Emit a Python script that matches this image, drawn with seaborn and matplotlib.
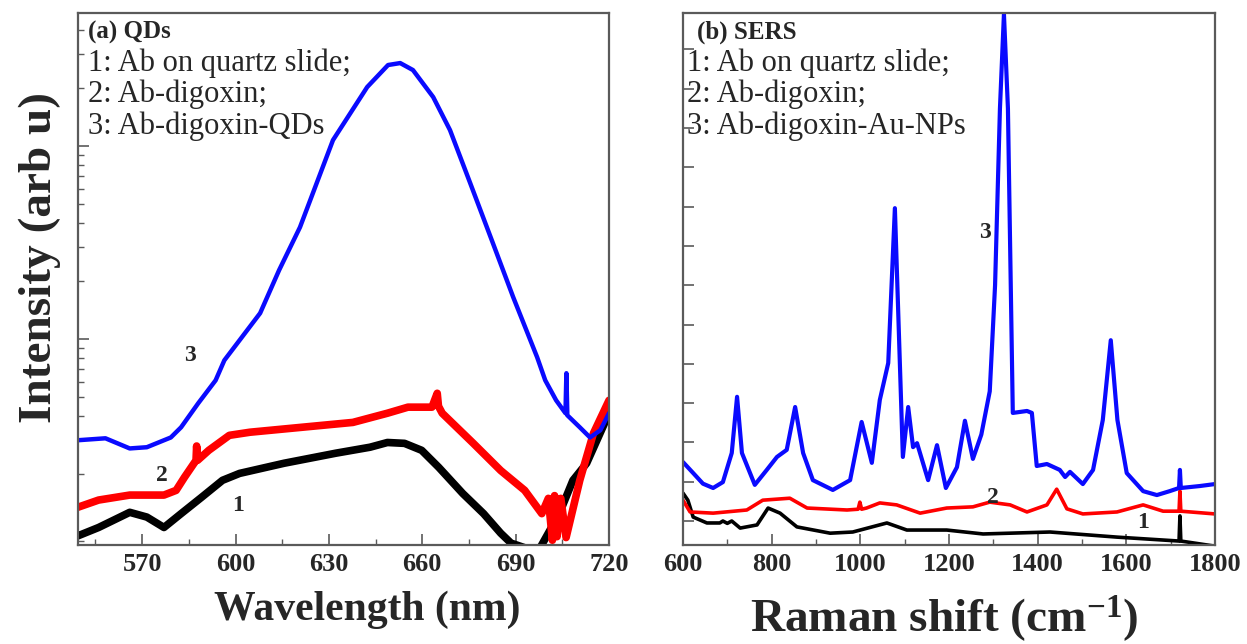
import matplotlib
matplotlib.use("Agg")
import matplotlib.pyplot as plt
from matplotlib.ticker import MultipleLocator, LogLocator, NullFormatter
import pandas as pd
import seaborn as sns

# ---------------- (a) photoluminescence of the QD assay ----------------
pl_nm_blue = [549.4, 558.2, 566.0, 571.5, 579.2, 582.5, 588.0, 593.6, 596.4, 607.9,
              614.0, 620.7, 631.3, 642.3, 649.0, 652.9, 657.0, 663.5, 668.9, 675.4,
              682.7, 689.2, 696.9, 699.5, 703.0, 706.0, 706.3, 706.6, 710.6, 713.9,
              717.2, 720.0]
pl_blue = [300, 307, 272, 276, 310, 350, 466, 613, 778, 1365,
           2280, 3802, 10740, 20230, 26300, 26920, 24770, 17950, 12110, 6430,
           3140, 1653, 807, 613, 483, 414, 667, 404, 350, 310,
           338, 414]

pl_nm_red = [549.4, 556.0, 566.0, 577.0, 580.9, 583.6, 587.3, 587.5, 587.8, 591.4,
             598.0, 604.6, 621.2, 637.7, 648.8, 655.4, 663.1, 664.8, 665.2, 666.4,
             676.4, 685.2, 692.9, 698.4, 700.5, 701.8, 702.5, 703.3, 704.5, 706.2,
             710.6, 715.0, 720.0]
pl_red = [135, 147, 156, 156, 165, 193, 236, 280, 236, 266,
          318, 330, 350, 371, 414, 445, 445, 525, 450, 414,
          289, 209, 165, 125, 150, 91, 155, 95, 150, 94,
          186, 326, 483]

pl_nm_black = [549.4, 556.0, 566.0, 571.5, 577.0, 582.5, 589.1, 595.8, 601.3, 615.6,
               632.2, 643.2, 648.8, 654.3, 659.8, 665.3, 673.0, 679.7, 685.2, 688.5,
               695.1, 698.0, 704.0, 708.4, 712.8, 720.0]
pl_black = [96, 106, 127, 120, 106, 125, 152, 186, 202, 228,
            257, 276, 292, 289, 266, 217, 159, 125, 99, 88,
            81, 84, 125, 186, 228, 414]

# ---------------- (b) SERS spectra ----------------
raman_blue_x = [600, 623, 645, 668, 690, 710, 722, 733, 762, 789,
                812, 834, 853, 871, 893, 938, 977, 1003, 1026, 1044,
                1063, 1078, 1096, 1108, 1119, 1128, 1153, 1173, 1193, 1218,
                1236, 1254, 1273, 1292, 1304, 1315, 1324, 1333, 1344, 1376,
                1387, 1398, 1421, 1450, 1462, 1473, 1502, 1525, 1547, 1565,
                1580, 1601, 1638, 1669, 1698, 1719, 1721, 1723, 1766, 1800]
raman_blue = [1500, 1220, 950, 840, 990, 1730, 3160, 1730, 920, 1300,
              1630, 1810, 2900, 1730, 1040, 790, 1040, 2520, 1480, 3080,
              4020, 7960, 1630, 2900, 1880, 1980, 1040, 1930, 840, 1370,
              2550, 1580, 2200, 3300, 6000, 10500, 12900, 10500, 2750, 2800,
              2750, 1400, 1450, 1300, 1120, 1250, 940, 1300, 2570, 4600,
              2570, 1220, 760, 660, 760, 840, 1300, 840, 890, 940]

raman_red_x = [600, 616, 668, 744, 780, 841, 880, 970, 995, 999,
               1003, 1014, 1044, 1082, 1135, 1195, 1254, 1292, 1338, 1376,
               1421, 1443, 1466, 1502, 1579, 1638, 1683, 1719, 1721, 1723, 1800]
raman_red = [530, 230, 200, 280, 530, 580, 330, 280, 300, 480,
             300, 330, 460, 410, 200, 330, 360, 480, 410, 230,
             410, 810, 310, 180, 230, 410, 250, 250, 760, 250, 180]

raman_black_x = [600, 611, 623, 654, 683, 690, 700, 710, 729, 767,
                 792, 819, 857, 932, 983, 1060, 1105, 1195, 1277, 1428,
                 1579, 1719, 1721, 1723, 1800]
raman_black = [710, 530, 100, -50, -50, 0, -60, 0, -180, -100,
               330, 200, -150, -310, -280, -50, -230, -230, -330, -280,
               -410, -510, 130, -510, -640]

legend_a = ["(a) QDs", "1: Ab on quartz slide;", "2: Ab-digoxin;", "3: Ab-digoxin-QDs"]
legend_b = ["(b) SERS", "1: Ab on quartz slide;", "2: Ab-digoxin;", "3: Ab-digoxin-Au-NPs"]
wl_ticks = [570, 600, 630, 660, 690, 720]
raman_ticks = [600, 800, 1000, 1200, 1400, 1600, 1800]

sns.set_style("ticks")
plt.rcParams["font.family"] = ["Liberation Serif", "DejaVu Serif"]
plt.rcParams["mathtext.fontset"] = "custom"
plt.rcParams["mathtext.rm"] = "Liberation Serif:bold"
plt.rcParams["mathtext.bf"] = "Liberation Serif:bold"
plt.rcParams["mathtext.it"] = "Liberation Serif:bold"

BLUE, RED, BLACK = "#0a0aff", "#ff0000", "#000000"
SPINE = "#5a5a5a"

fig = plt.figure(figsize=(12.47, 6.44), dpi=100)
ax_a = fig.add_axes([0.0626, 0.1537, 0.4258, 0.8261])
ax_b = fig.add_axes([0.5477, 0.1537, 0.4266, 0.8261])


def draw(ax, x, y, color, lw):
    df = pd.DataFrame({"x": x, "y": y})
    sns.lineplot(data=df, x="x", y="y", ax=ax, color=color, linewidth=lw,
                 estimator=None, sort=False, solid_joinstyle="round")


draw(ax_a, pl_nm_black, pl_black, BLACK, 5.5)
draw(ax_a, pl_nm_red, pl_red, RED, 5.5)
draw(ax_a, pl_nm_blue, pl_blue, BLUE, 3.2)

draw(ax_b, raman_black_x, raman_black, BLACK, 2.6)
draw(ax_b, raman_red_x, raman_red, RED, 2.6)
draw(ax_b, raman_blue_x, raman_blue, BLUE, 3.0)

# panel (a) axes
ax_a.set_yscale("log")
ax_a.set_xlim(549.4, 720)
ax_a.set_ylim(86, 48900)
ax_a.xaxis.set_minor_locator(MultipleLocator(15))
ax_a.set_xticks(wl_ticks)
ax_a.yaxis.set_major_locator(LogLocator(base=10))
ax_a.yaxis.set_minor_locator(LogLocator(base=10, subs=range(2, 10)))
ax_a.yaxis.set_major_formatter(NullFormatter())
ax_a.yaxis.set_minor_formatter(NullFormatter())

# panel (b) axes
ax_b.set_xlim(600, 1800)
ax_b.set_ylim(-611, 12926)
ax_b.set_xticks(raman_ticks)
ax_b.xaxis.set_minor_locator(MultipleLocator(100))
ax_b.yaxis.set_major_locator(MultipleLocator(1000))
ax_b.yaxis.set_major_formatter(NullFormatter())

for ax in (ax_a, ax_b):
    ax.set_xlabel("")
    ax.set_ylabel("")
    for sp in ax.spines.values():
        sp.set_visible(True)
        sp.set_color(SPINE)
        sp.set_linewidth(1.6)
    ax.tick_params(axis="both", which="major", direction="in", length=8,
                   width=1.2, color=SPINE, top=False, right=False)
    ax.tick_params(axis="both", which="minor", direction="in", length=4,
                   width=1.0, color=SPINE, top=False, right=False)
    ax.tick_params(axis="x", which="major", labelsize=19, pad=6)
    for lab in ax.get_xticklabels():
        lab.set_fontweight("bold")

# in-panel captions
ax_a.text(0.019, 0.964, legend_a[0], transform=ax_a.transAxes, fontsize=18,
          fontweight="bold", va="center", ha="left")
ax_b.text(0.026, 0.964, legend_b[0], transform=ax_b.transAxes, fontsize=18,
          fontweight="bold", va="center", ha="left")
for i, line in enumerate(legend_a[1:]):
    ax_a.text(0.019, 0.906 - 0.059 * i, line, transform=ax_a.transAxes,
              fontsize=22, va="center", ha="left")
for i, line in enumerate(legend_b[1:]):
    ax_b.text(0.008, 0.906 - 0.059 * i, line, transform=ax_b.transAxes,
              fontsize=22, va="center", ha="left")

# curve numbers
ax_a.text(585.4, 826, "3", fontsize=17, fontweight="bold", ha="center", va="center")
ax_a.text(576.4, 197, "2", fontsize=17, fontweight="bold", ha="center", va="center")
ax_a.text(600.8, 138, "1", fontsize=17, fontweight="bold", ha="center", va="center")
ax_b.text(1281, 7350, "3", fontsize=17, fontweight="bold", ha="center", va="center")
ax_b.text(1299, 610, "2", fontsize=17, fontweight="bold", ha="center", va="center")
ax_b.text(1638, -30, "1", fontsize=17, fontweight="bold", ha="center", va="center")

# axis titles
fig.text(367 / 1247, 1 - 610 / 644, "Wavelength (nm)", fontsize=30,
         fontweight="bold", ha="center", va="center")
fig.text(944 / 1247, 1 - 632 / 644, r"Raman shift (cm$^{-1}$)", fontsize=34,
         fontweight="bold", ha="center", va="baseline")
fig.text(40 / 1247, 1 - 257 / 644, "Intensity (arb u)", fontsize=34,
         fontweight="bold", ha="center", va="center", rotation=90)

fig.savefig("out.png", dpi=100, facecolor="white")
